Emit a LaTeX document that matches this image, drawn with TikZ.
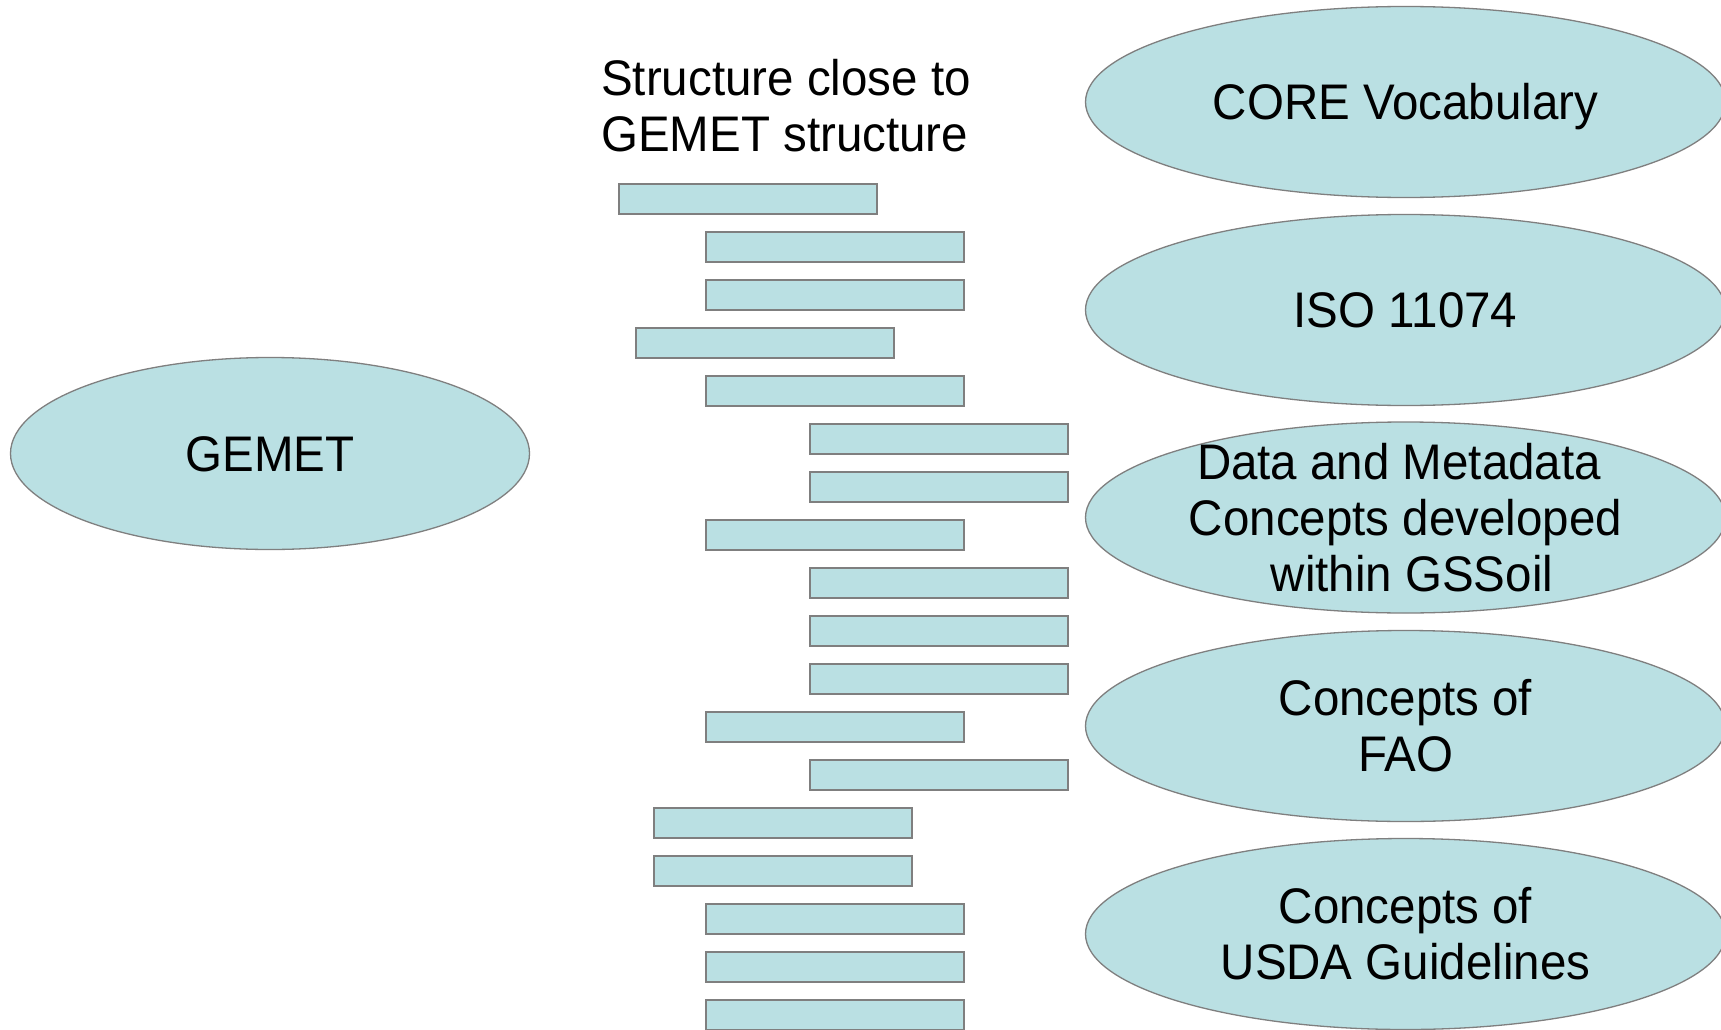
\documentclass[tikz,border=0pt]{standalone}
\usepackage{fontspec}
\setmainfont{Liberation Sans}
\newfontfamily\slidefont[FakeStretch=0.95]{Liberation Sans}
\usetikzlibrary{shapes.geometric}
\definecolor{boxfill}{HTML}{BAE0E3}
\definecolor{boxline}{HTML}{7F7F7F}
\newcommand{\capline}[1]{\raisebox{0pt}[0.716em][0pt]{#1}}
\begin{document}
\begin{tikzpicture}[x=1pt,y=-1pt,
  bar/.style={draw=boxline, line width=2pt, fill=boxfill, rectangle,
    minimum width=258pt, minimum height=30pt, inner sep=0pt, anchor=north west},
  oval/.style={draw=boxline, line width=1.3pt, fill=boxfill, ellipse,
    minimum width=640pt, minimum height=191pt, inner xsep=-60pt, inner ysep=-60pt,
    align=center, font=\slidefont\fontsize{50}{56}\selectfont},
  txt/.style={inner sep=0pt, align=left, font=\slidefont\fontsize{50}{56}\selectfont}
]
\useasboundingbox (0,0) rectangle (1721,1030);
\clip (0,0) rectangle (1721,1030);
\fill[white] (0,0) rectangle (1721,1030);

% left ellipse
\node[oval, minimum width=519pt, minimum height=192pt] (gemet) at (270,453.5) {\capline{GEMET}};

% title
\node[txt, anchor=north west] (title) at (601,59.2) {\capline{Structure close to}\\\capline{GEMET structure}};

% right ellipses
\node[oval] (core) at (1405.5,102) {\capline{CORE Vocabulary}};
\node[oval] (iso) at (1405.5,310) {\capline{ISO 11074}};
\node[oval] (dmc) at (1405.5,517.5) {\capline{Data and Metadata\hspace*{13pt}}\\\capline{Concepts developed}\\\capline{\hspace*{13pt}within GSSoil}};
\node[oval] (fao) at (1405.5,726) {\capline{Concepts of}\\\capline{FAO}};
\node[oval] (usda) at (1405.5,934) {\capline{Concepts of}\\\capline{USDA Guidelines}};

% bars
\node[bar] (b1)  at (618,183) {};
\node[bar] (b2)  at (705,231) {};
\node[bar] (b3)  at (705,279) {};
\node[bar] (b4)  at (635,327) {};
\node[bar] (b5)  at (705,375) {};
\node[bar] (b6)  at (809,423) {};
\node[bar] (b7)  at (809,471) {};
\node[bar] (b8)  at (705,519) {};
\node[bar] (b9)  at (809,567) {};
\node[bar] (b10) at (809,615) {};
\node[bar] (b11) at (809,663) {};
\node[bar] (b12) at (705,711) {};
\node[bar] (b13) at (809,759) {};
\node[bar] (b14) at (653,807) {};
\node[bar] (b15) at (653,855) {};
\node[bar] (b16) at (705,903) {};
\node[bar] (b17) at (705,951) {};
\node[bar] (b18) at (705,999) {};
\end{tikzpicture}
\end{document}
